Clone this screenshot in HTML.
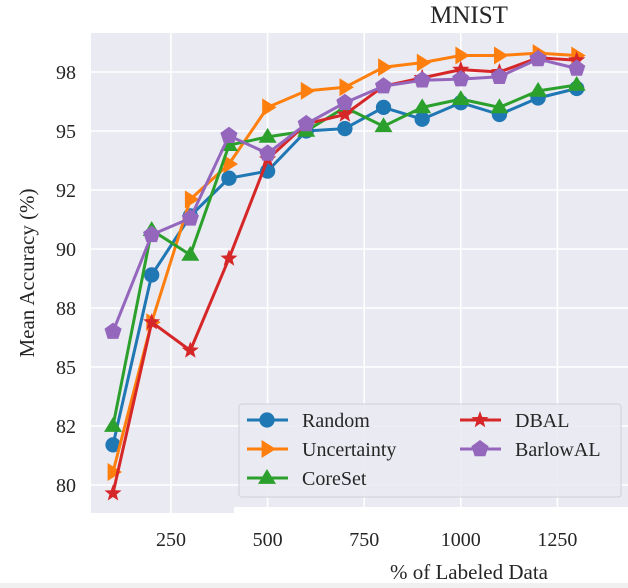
<!DOCTYPE html>
<html><head><meta charset="utf-8">
<style>
html,body{margin:0;padding:0;background:#fff;}
svg{display:block;font-family:"Liberation Serif","DejaVu Serif",serif;}
</style></head>
<body>
<svg id="chart" width="628" height="588" viewBox="0 0 628 588">
  <rect x="91" y="33" width="537" height="480" fill="#eaeaf2"/>
  <g id="grid"></g>
  <rect x="234" y="507" width="394" height="6" fill="#ffffff"/>
  <g id="series"></g>
  <g id="ticks"></g>
  <text x="469" y="23" font-size="25" text-anchor="middle" fill="#262626">MNIST</text>
  <text x="469" y="579" font-size="21" text-anchor="middle" fill="#262626">% of Labeled Data</text>
  <text transform="translate(34,273) rotate(-90)" font-size="21" text-anchor="middle" fill="#262626">Mean Accuracy (%)</text>
  <rect x="0" y="583" width="628" height="5" fill="#f0f0f0"/>
  <g id="legend">
    <rect x="239" y="404" width="382" height="93" rx="3" fill="#eaeaf2" fill-opacity="0.9" stroke="#d0d0d8"/>
  </g>
</svg>
<script>
const xValues = [100,200,300,400,500,600,700,800,900,1000,1100,1200,1300];
const seriesNames = ["Random","Uncertainty","CoreSet","DBAL","BarlowAL"];
const randomVals = [81.7,88.9,91.4,93.0,93.3,95.0,95.1,96.0,95.5,96.2,95.7,96.4,96.8];
const uncertaintyVals = [80.55,86.9,92.1,93.6,96.0,96.7,96.85,97.7,97.9,98.2,98.2,98.3,98.2];
const coresetVals = [82.5,90.8,89.75,94.4,94.75,95.0,96.0,95.2,96.0,96.35,96.0,96.7,96.95];
const dbalVals = [79.65,86.9,85.7,89.6,93.8,95.3,95.7,96.9,97.25,97.6,97.5,98.1,98.0];
const barlowVals = [86.5,90.6,91.3,94.8,94.05,95.3,96.2,96.9,97.15,97.2,97.3,98.05,97.65];
const yTicks = [80,82.5,85,87.5,90,92.5,95,97.5];
const yTickLabels = ["80","82","85","88","90","92","95","98"];
const xTicks = [250,500,750,1000,1250,1500];
const xTickLabels = ["250","500","750","1000","1250","1500"];

const NS = "http://www.w3.org/2000/svg";
function xs(v){ return 171 + (v-250)*0.3864; }
function ys(v){ return 485 - (v-80)*23.6; }
function mk(tag, attrs, parent){ const e=document.createElementNS(NS,tag); for(const k in attrs) e.setAttribute(k,attrs[k]); parent.appendChild(e); return e; }

const grid=document.getElementById('grid'), ticks=document.getElementById('ticks');
yTicks.forEach((t,i)=>{
  const l=mk('line',{x1:91,x2:628,y1:ys(t),y2:ys(t),stroke:'#fff','stroke-width':1.6},grid);
  
  
  const tx=mk('text',{x:76,y:ys(t)+7,'font-size':20,'text-anchor':'end',fill:'#262626'},ticks);
  tx.textContent=yTickLabels[i];
  
  
});
xTicks.forEach((t,i)=>{
  const x=xs(t);
  if(x<628){
    const l=mk('line',{x1:x,x2:x,y1:33,y2:513,stroke:'#fff','stroke-width':1.6},grid);
    
    
  }
  const tx=mk('text',{x:x,y:546,'font-size':20,'text-anchor':'middle',fill:'#262626'},ticks);
  tx.textContent=xTickLabels[i];
  
  
});

const colors=["#1f77b4","#ff7f0e","#2ca02c","#d62728","#9467bd"];
const markers=["circle","tri-right","tri-up","star","pentagon"];
const allVals=[randomVals,uncertaintyVals,coresetVals,dbalVals,barlowVals];

function markerPath(type,cx,cy,r){
  let pts=[];
  if(type==="tri-right"){ pts=[[cx+r,cy],[cx-r*0.6,cy-r],[cx-r*0.6,cy+r]]; }
  else if(type==="tri-up"){ pts=[[cx,cy-r],[cx+r,cy+r*0.65],[cx-r,cy+r*0.65]]; }
  else if(type==="star"){ for(let i=0;i<10;i++){const a=-Math.PI/2+i*Math.PI/5;const rr=i%2?r*0.42:r;pts.push([cx+rr*Math.cos(a),cy+rr*Math.sin(a)]);} }
  else if(type==="pentagon"){ for(let i=0;i<5;i++){const a=-Math.PI/2+i*2*Math.PI/5;pts.push([cx+r*Math.cos(a),cy+r*Math.sin(a)]);} }
  return "M"+pts.map(p=>p[0].toFixed(1)+","+p[1].toFixed(1)).join("L")+"Z";
}
function drawMarker(type,cx,cy,color,parent,r){
  let e;
  if(type==="circle") e=mk('circle',{cx:cx,cy:cy,r:r*0.85,fill:color},parent);
  else e=mk('path',{d:markerPath(type,cx,cy,r),fill:color},parent);
  return e;
}

const seriesG=document.getElementById('series');
allVals.forEach((vals,si)=>{
  const g=mk('g',{},seriesG);
  
  
  const d=vals.map((v,i)=>(i?"L":"M")+xs(xValues[i]).toFixed(1)+","+ys(v).toFixed(1)).join("");
  const p=mk('path',{d:d,fill:'none',stroke:colors[si],'stroke-width':3,'stroke-linejoin':'round'},g);
  
  
  vals.forEach((v,i)=>{
    const m=drawMarker(markers[si],xs(xValues[i]),ys(v),colors[si],g,9);
    
    
  });
});

const legend=document.getElementById('legend');
const legPos=[[247,420],[247,449],[247,478],[460,420],[460,449]];
seriesNames.forEach((n,si)=>{
  const [x,y]=legPos[si];
  const g=mk('g',{},legend);
  
  
  mk('line',{x1:x,x2:x+41,y1:y,y2:y,stroke:colors[si],'stroke-width':3},g);
  drawMarker(markers[si],x+20,y,colors[si],g,9);
  const t=mk('text',{x:x+55,y:y+7,'font-size':20,fill:'#262626'},g);
  t.textContent=n;
});
</script>
</body></html>
